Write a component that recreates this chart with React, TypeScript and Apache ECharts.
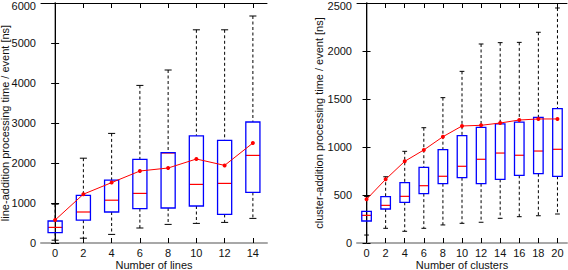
import React, { useEffect, useRef } from "react";
import * as echarts from "echarts";

// Left chart: Number of lines
const linesX = [0, 2, 4, 6, 8, 10, 12, 14];
const linesWhiskerLow = [70, 120, 215, 375, 465, 490, 515, 615];
const linesQ1 = [260, 570, 775, 860, 875, 925, 715, 1265];
const linesMedian = [390, 775, 1070, 1240, 2250, 1465, 1490, 2190];
const linesQ3 = [550, 1190, 1570, 2090, 2260, 2680, 2565, 3025];
const linesWhiskerHigh = [970, 2120, 2740, 3940, 4325, 5330, 5330, 5675];
const linesMean = [575, 1220, 1510, 1800, 1875, 2100, 1940, 2500];

// Right chart: Number of clusters
const clustersX = [0, 2, 4, 6, 8, 10, 12, 14, 16, 18, 20];
const clustersWhiskerLow = [83, 153, 122, 153, 188, 205, 216, 257, 274, 284, 302];
const clustersQ1 = [229, 354, 424, 514, 618, 680, 618, 663, 705, 722, 695];
const clustersMedian = [288, 392, 486, 597, 695, 799, 872, 937, 914, 958, 976];
const clustersQ3 = [330, 483, 628, 788, 972, 1118, 1205, 1240, 1260, 1309, 1399];
const clustersWhiskerHigh = [485, 690, 955, 1201, 1514, 1788, 2073, 2087, 2090, 2195, 2448];
const clustersMean = [455, 663, 851, 969, 1107, 1219, 1226, 1250, 1281, 1292, 1292];

const linesTicks = linesX;
const clustersTicks = clustersX;

const FONT = "Liberation Sans";

function boxData(x: number[], lo: number[], q1: number[], med: number[], q3: number[], hi: number[]) {
  return x.map((v, i) => [v, lo[i], q1[i], med[i], q3[i], hi[i]]);
}

function renderBox(params: any, api: any) {
  const x = api.value(0);
  const lo = api.coord([x, api.value(1)]);
  const q1 = api.coord([x, api.value(2)]);
  const med = api.coord([x, api.value(3)]);
  const q3 = api.coord([x, api.value(4)]);
  const hi = api.coord([x, api.value(5)]);
  const unit = api.size([1, 0])[0];
  const hb = unit / 2;
  const hc = unit * 0.25;
  const cx = q1[0];
  const dashStyle = { stroke: "#000", lineWidth: 1, lineDash: [3, 2.5] };
  const solid = { stroke: "#000", lineWidth: 1 };
  return {
    type: "group",
    children: [
      { type: "line", shape: { x1: cx, y1: hi[1], x2: cx, y2: q3[1] }, style: dashStyle },
      { type: "line", shape: { x1: cx, y1: q1[1], x2: cx, y2: lo[1] }, style: dashStyle },
      { type: "line", shape: { x1: cx - hc, y1: hi[1], x2: cx + hc, y2: hi[1] }, style: solid },
      { type: "line", shape: { x1: cx - hc, y1: lo[1], x2: cx + hc, y2: lo[1] }, style: solid },
      { type: "line", shape: { x1: cx - hb, y1: med[1], x2: cx + hb, y2: med[1] }, style: { stroke: "#ff0000", lineWidth: 1.2 } },
      {
        type: "rect",
        shape: { x: cx - hb, y: q3[1], width: unit, height: q1[1] - q3[1] },
        style: { fill: "none", stroke: "#0000ff", lineWidth: 1.3 },
      },
    ],
  };
}

function axisPair(gridIndex: number, min: number, max: number, ticks: number[], name: string) {
  const common = {
    gridIndex,
    type: "value",
    min,
    max,
    splitLine: { show: false },
  };
  return [
    {
      ...common,
      position: "bottom",
      axisLine: { onZero: false, lineStyle: { color: "#a8a8a8", width: 2 } },
      axisTick: { inside: true, length: 5, customValues: ticks, lineStyle: { color: "#000" } },
      axisLabel: { customValues: ticks, margin: 4, color: "#111", fontFamily: FONT, fontSize: 11 },
      name,
      nameLocation: "middle",
      nameGap: 16,
      nameMoveOverlap: false,
      nameTextStyle: { color: "#111", fontFamily: FONT, fontSize: 11 },
    },
    {
      ...common,
      position: "top",
      axisLine: { onZero: false, lineStyle: { color: "#000", width: 1 } },
      axisTick: { inside: true, length: 5, customValues: ticks, lineStyle: { color: "#000" } },
      axisLabel: { show: false },
    },
  ];
}

function yPair(gridIndex: number, max: number, interval: number, name: string, gap: number) {
  const common = {
    gridIndex,
    type: "value",
    min: 0,
    max,
    interval,
    splitLine: { show: false },
  };
  return [
    {
      ...common,
      position: "left",
      axisLine: { show: true, lineStyle: { color: "#a8a8a8", width: 2 } },
      axisTick: { show: true, inside: true, length: 4, lineStyle: { color: "#000" } },
      axisLabel: {
        margin: 5,
        color: "#111",
        fontFamily: FONT,
        fontSize: 11,
        formatter: (v: number) => (v === max ? `{t|${v}}` : String(v)),
        rich: { t: { padding: [5, 0, 0, 0], fontFamily: FONT, fontSize: 11, color: "#111" } },
      },
      name,
      nameLocation: "middle",
      nameRotate: 90,
      nameGap: gap,
      nameMoveOverlap: false,
      nameTextStyle: { color: "#111", fontFamily: FONT, fontSize: 11 },
    },
    {
      ...common,
      position: "right",
      axisLine: { show: true, lineStyle: { color: "#000", width: 1 } },
      axisTick: { show: true, inside: true, length: 4, lineStyle: { color: "#000" } },
      axisLabel: { show: false },
    },
  ];
}

export default function App() {
  const ref = useRef<HTMLDivElement>(null);
  useEffect(() => {
    if (!ref.current) return;
    const chart = echarts.init(ref.current, null, { renderer: "svg" });
    const option: any = {
      animation: false,
      backgroundColor: "#fff",
      grid: [
        { left: 41, right: 301, top: 3, bottom: 27, containLabel: false, outerBoundsMode: "none" },
        { left: 357, right: 1, top: 3, bottom: 27, containLabel: false, outerBoundsMode: "none" },
      ],
      xAxis: [
        ...axisPair(0, -1, 15, linesTicks, "Number of lines"),
        ...axisPair(1, -1, 21, clustersTicks, "Number of clusters"),
      ],
      yAxis: [
        ...yPair(0, 6000, 1000, "line-addition processing time / event [ns]", 31),
        ...yPair(1, 2500, 500, "cluster-addition processing time / event [ns]", 33),
      ],
      series: [
        {
          type: "custom",
          xAxisIndex: 0,
          yAxisIndex: 0,
          renderItem: renderBox,
          encode: { x: 0, y: [1, 2, 3, 4, 5] },
          data: boxData(linesX, linesWhiskerLow, linesQ1, linesMedian, linesQ3, linesWhiskerHigh),
        },
        {
          type: "line",
          xAxisIndex: 0,
          yAxisIndex: 0,
          data: linesX.map((x, i) => [x, linesMean[i]]),
          symbol: "circle",
          symbolSize: 4,
          lineStyle: { color: "#ff0000", width: 1 },
          itemStyle: { color: "#ff0000" },
        },
        {
          type: "custom",
          xAxisIndex: 2,
          yAxisIndex: 2,
          renderItem: renderBox,
          encode: { x: 0, y: [1, 2, 3, 4, 5] },
          data: boxData(clustersX, clustersWhiskerLow, clustersQ1, clustersMedian, clustersQ3, clustersWhiskerHigh),
        },
        {
          type: "line",
          xAxisIndex: 2,
          yAxisIndex: 2,
          data: clustersX.map((x, i) => [x, clustersMean[i]]),
          symbol: "circle",
          symbolSize: 4,
          lineStyle: { color: "#ff0000", width: 1 },
          itemStyle: { color: "#ff0000" },
        },
      ],
    };
    chart.setOption(option);
    return () => chart.dispose();
  }, []);
  return (
    <div
      ref={ref}
      style={{ position: "absolute", left: 0, top: 0, width: 568, height: 270 }}
    />
  );
}
